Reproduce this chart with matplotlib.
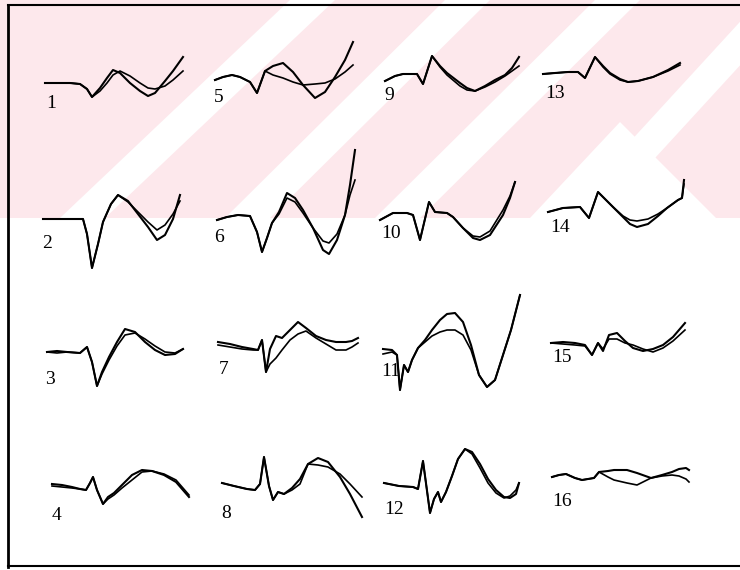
# ======================================================
# SIXTEEN SMALL WAVEFORM PANELS, TWO TRACES IN EACH PANEL
#   (4 x 4 grid, numbered down the columns)
# ======================================================

import numpy as np
import matplotlib.pyplot as plt
from matplotlib.patches import Polygon, Rectangle

# -----------------------------------------------------
# WAVEFORM DATA
# t  = sample position along the trace
# a, b = amplitude of the two traces (positive = up)
# -----------------------------------------------------
t1 = [0, 10, 25, 35, 42, 47, 55, 62, 68, 75, 85, 95, 103, 110, 120, 128, 138]
a1 = [0, 0, 0, -1, -6, -14, -5, 5, 13, 10, 0, -8, -13, -10, 2, 12, 26]
b1 = [0, 0, 0, -1, -6, -14, -8, 0, 8, 12, 7, 0, -5, -6, -3, 3, 12]

t2 = [0, 20, 40, 44, 49, 55, 60, 68, 75, 85, 95, 105, 114, 122, 130, 137]
a2 = [0, 0, 0, -15, -49, -25, -3, 15, 24, 18, 5, -8, -21, -16, 0, 24]
b2 = [0, 0, 0, -15, -49, -25, -3, 15, 24, 17, 7, -3, -11, -6, 5, 18]

t3 = [0, 10, 20, 33, 40, 45, 50, 55, 62, 70, 78, 88, 98, 108, 118, 128, 136]
a3 = [0, 1, 0, -1, 5, -10, -34, -20, -5, 10, 23, 20, 10, 2, -3, -2, 3]
b3 = [0, -1, 0, -1, 5, -10, -34, -22, -8, 6, 17, 19, 13, 6, 0, -1, 3]

t4 = [0, 10, 20, 28, 34, 38, 41, 45, 51, 56, 62, 70, 80, 90, 100, 112, 124, 137]
a4 = [1, 0, -2, -4, -5, 2, 8, -5, -19, -12, -8, 0, 10, 15, 14, 10, 3, -12]
b4 = [-1, -2, -3, -4, -5, 2, 8, -5, -19, -14, -10, -3, 5, 13, 14, 11, 5, -10]

t5 = [0, 8, 17, 25, 35, 42, 50, 58, 68, 78, 88, 100, 110, 120, 130, 138]
a5 = [0, 3, 5, 3, -2, -13, 9, 14, 17, 8, -5, -18, -12, 3, 20, 38]
b5 = [0, 3, 5, 3, -2, -13, 9, 5, 2, -2, -5, -4, -3, 1, 8, 15]

t6 = [0, 10, 21, 33, 40, 45, 50, 55, 62, 70, 78, 86, 96, 106, 112, 120, 128, 133, 138]
a6 = [0, 3, 5, 4, -12, -32, -18, -3, 8, 27, 22, 10, -8, -30, -34, -20, 5, 35, 70]
b6 = [0, 3, 5, 4, -12, -32, -18, -3, 6, 22, 18, 7, -8, -21, -23, -14, 5, 25, 40]

t7 = [0, 12, 24, 35, 40, 44, 48, 52, 58, 64, 72, 80, 88, 98, 108, 118, 128, 134, 140]
a7 = [2, 0, -3, -5, -6, 4, -28, -5, 8, 6, 14, 22, 16, 8, 4, 2, 2, 3, 6]
b7 = [-1, -3, -5, -6, -6, 4, -28, -20, -14, -6, 4, 10, 13, 6, 0, -6, -6, -3, 1]

t8 = [0, 12, 25, 33, 38, 42, 47, 51, 56, 62, 70, 78, 86, 96, 106, 118, 128, 140]
a8 = [1, -2, -5, -6, 0, 27, -2, -16, -8, -10, -4, 5, 20, 26, 22, 7, -10, -33]
b8 = [1, -2, -5, -6, 0, 27, -2, -16, -8, -10, -6, 0, 20, 19, 17, 10, 0, -13]

t9 = [0, 10, 18, 32, 38, 47, 55, 62, 75, 82, 90, 100, 110, 120, 127, 134]
a9 = [-1, 4, 6, 6, -4, 24, 14, 7, -3, -8, -11, -6, 0, 5, 12, 23]
b9 = [-1, 4, 6, 6, -4, 24, 13, 5, -6, -10, -11, -7, -2, 4, 9, 14]

t10 = [0, 13, 27, 33, 40, 49, 55, 67, 73, 83, 93, 100, 110, 123, 130, 135]
a10 = [0, 7, 7, 5, -20, 18, 8, 7, 3, -8, -18, -20, -15, 5, 22, 38]
b10 = [0, 7, 7, 5, -20, 18, 8, 7, 3, -8, -16, -17, -11, 10, 24, 38]

t11 = [0, 9, 14, 17, 21, 25, 29, 35, 42, 49, 57, 64, 72, 80, 88, 96, 104, 112, 120, 128, 137]
a11 = [1, 0, -5, -40, -15, -22, -10, 2, 10, 20, 30, 36, 37, 28, 5, -25, -37, -30, -5, 20, 55]
b11 = [-4, -2, -5, -40, -15, -22, -10, 2, 8, 14, 18, 20, 20, 15, 0, -25, -37, -30, -5, 20, 55]

t12 = [0, 15, 29, 34, 39, 46, 50, 54, 57, 62, 68, 74, 81, 88, 96, 104, 112, 120, 126, 132, 135]
a12 = [1, -2, -3, -5, 23, -29, -15, -8, -18, -8, 8, 25, 35, 32, 20, 5, -6, -13, -14, -10, 1]
b12 = [1, -2, -3, -5, 23, -29, -15, -8, -18, -8, 8, 25, 35, 30, 16, 1, -9, -14, -12, -6, 1]

t13 = [0, 12, 25, 35, 42, 52, 60, 67, 77, 85, 95, 110, 125, 137]
a13 = [0, 1, 2, 2, -4, 17, 8, 1, -5, -8, -7, -3, 4, 11]
b13 = [0, 1, 2, 2, -4, 17, 7, 0, -6, -8, -7, -3, 3, 9]

t14 = [0, 15, 32, 41, 50, 58, 65, 75, 82, 89, 100, 110, 119, 130, 134, 136]
a14 = [0, 4, 5, -6, 20, 12, 5, -5, -12, -15, -12, -4, 4, 12, 14, 32]
b14 = [0, 4, 5, -6, 20, 12, 5, -4, -8, -9, -7, -2, 4, 12, 14, 28]

t15 = [0, 12, 24, 34, 41, 47, 52, 58, 66, 74, 82, 92, 102, 112, 122, 134]
a15 = [0, 1, 0, -2, -12, 0, -8, 8, 10, 2, -5, -8, -6, -2, 6, 20]
b15 = [0, -1, -2, -3, -12, 0, -6, 4, 4, 0, -2, -6, -9, -5, 2, 13]

t16 = [0, 7, 14, 23, 30, 42, 47, 56, 62, 75, 85, 99, 110, 120, 127, 134, 137]
a16 = [1, 3, 4, 0, -2, 0, 6, 7, 8, 8, 5, 0, 3, 6, 9, 10, 8]
b16 = [1, 3, 4, 0, -2, 0, 6, 1, -2, -5, -7, 0, 2, 3, 2, -1, -4]

tt = [t1, t2, t3, t4, t5, t6, t7, t8, t9, t10, t11, t12, t13, t14, t15, t16]
aa = [a1, a2, a3, a4, a5, a6, a7, a8, a9, a10, a11, a12, a13, a14, a15, a16]
bb = [b1, b2, b3, b4, b5, b6, b7, b8, b9, b10, b11, b12, b13, b14, b15, b16]
names = [str(k) for k in range(1, 17)]

# -----------------------------------------------------
# LAYOUT (page pixels): start of each trace and its label
# -----------------------------------------------------
xstart = [45, 43, 47, 52, 215, 217, 218, 222, 385, 380, 383, 384, 543, 548, 551, 552]
ybase = [83, 219, 352, 485, 80, 220, 344, 484, 80, 220, 350, 484, 74, 212, 343, 478]
xlab = [46, 42, 45, 52, 214, 214, 219, 221, 384, 381, 381, 384, 545, 550, 552, 552]
ylab = [104, 244, 379, 515, 98, 238, 370, 513, 96, 234, 372, 510, 94, 228, 357, 502]

# ----------------
# PLOTTING SECTION
# ----------------
fig = plt.figure(figsize=(7.4, 5.7), dpi=100)
ax = fig.add_axes([0, 0, 1, 1])
ax.set_xlim(0, 740)
ax.set_ylim(570, 0)
ax.axis("off")

# faint pink background stamp in the upper part of the page
pink = "#fde8ec"
ax.add_patch(Rectangle((0, 0), 740, 218, color=pink, lw=0, zorder=0))
stripes = [
    [(60, 218), (105, 218), (335, 0), (290, 0)],
    [(225, 218), (270, 218), (490, 0), (445, 0)],
    [(375, 218), (420, 218), (640, 0), (595, 0)],
    [(560, 218), (600, 218), (800, 0), (760, 0)],
    [(530, 218), (620, 122), (716, 218)],
]
for s in stripes:
    ax.add_patch(Polygon(s, closed=True, color="white", lw=0, zorder=0.5))

# page frame
ax.plot([8, 8], [5, 567], color="k", lw=2)
ax.plot([8, 740], [5, 5], color="k", lw=1.5)
ax.plot([8, 740], [566, 566], color="k", lw=1.5)

for k in range(16):
    t = np.array(tt[k]) + xstart[k]
    ax.plot(t, ybase[k] - np.array(aa[k]), color="k", lw=1.5, zorder=2)
    ax.plot(t, ybase[k] - np.array(bb[k]), color="k", lw=1.2, zorder=2)
    ax.text(xlab[k], ylab[k], names[k], fontsize=14, family="Liberation Serif",
            ha="left", va="center", color="k")

plt.savefig("out.png", dpi=100)
